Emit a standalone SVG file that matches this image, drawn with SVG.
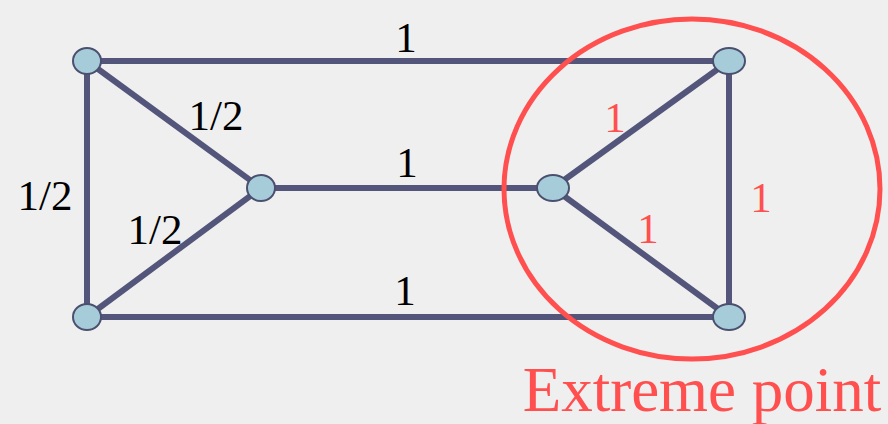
<svg xmlns="http://www.w3.org/2000/svg" width="888" height="424" viewBox="0 0 888 424">
<style>
.e{stroke:#53557a;stroke-width:6;stroke-linecap:round;fill:none}
.n{fill:#a6ccd9;stroke:#4b5070;stroke-width:2}
.r{fill:#ff4f4f}
</style>
<rect width="888" height="424" fill="#efefef"/>
<g id="connectors">
<line class="e" x1="87" y1="61" x2="729" y2="61"/>
<line class="e" x1="87" y1="61" x2="87" y2="317"/>
<line class="e" x1="87" y1="317" x2="729" y2="317"/>
<line class="e" x1="729" y1="61" x2="729" y2="317"/>
<line class="e" x1="87" y1="61" x2="261" y2="188"/>
<line class="e" x1="87" y1="317" x2="261" y2="188"/>
<line class="e" x1="261" y1="188" x2="553" y2="188"/>
<line class="e" x1="553" y1="188" x2="729" y2="61"/>
<line class="e" x1="553" y1="188" x2="729" y2="317"/>
</g>
<g id="labels" font-family="'Liberation Serif', 'Times New Roman', serif" font-size="43" fill="#000" text-anchor="middle">
<text x="406" y="52">1</text>
<text x="216" y="130">1/2</text>
<text x="45" y="210">1/2</text>
<text x="155" y="244">1/2</text>
<text x="407" y="177">1</text>
<text x="405" y="305">1</text>
<text class="r" x="615" y="132">1</text>
<text class="r" x="648" y="243">1</text>
<text class="r" x="761" y="212">1</text>
</g>
<g id="extreme">
<ellipse cx="692" cy="189" rx="188" ry="170" fill="none" stroke="#ff4f4f" stroke-width="5"/>
<text x="702" y="411" font-family="'Liberation Serif', 'Times New Roman', serif" font-size="63" fill="#ff4f4f" text-anchor="middle">Extreme point</text>
</g>
<g id="n1"><ellipse class="n" cx="87" cy="61" rx="14" ry="13"/></g>
<g id="n2"><ellipse class="n" cx="87" cy="317" rx="14" ry="13"/></g>
<g id="n3"><ellipse class="n" cx="261" cy="188" rx="14" ry="13"/></g>
<g id="n4"><ellipse class="n" cx="553" cy="188" rx="16" ry="13"/></g>
<g id="n5"><ellipse class="n" cx="729" cy="61" rx="16" ry="13"/></g>
<g id="n6"><ellipse class="n" cx="729" cy="317" rx="16" ry="13"/></g>
</svg>
